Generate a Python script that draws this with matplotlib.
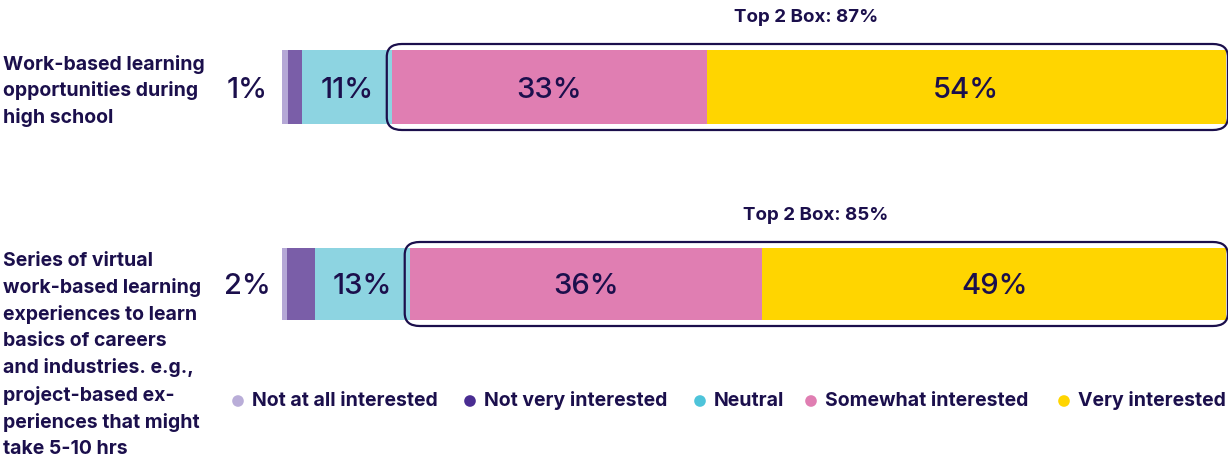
import numpy as np
import matplotlib.pyplot as plt
from matplotlib.patches import FancyBboxPatch

plt.rcParams['font.family'] = ['Inter', 'DejaVu Sans']

categories = ["Not at all interested", "Not very interested", "Neutral",
              "Somewhat interested", "Very interested"]
row1 = [0.6, 1.5, 9.6, 33.3, 55.0]
row2 = [0.5, 3.0, 10.1, 37.3, 49.1]
labels1 = ["", "1%", "11%", "33%", "54%"]
labels2 = ["", "2%", "13%", "36%", "49%"]
top2 = ["Top 2 Box: 87%", "Top 2 Box: 85%"]
questions = ["Work-based learning\nopportunities during\nhigh school",
             "Series of virtual\nwork-based learning\nexperiences to learn\nbasics of careers\n"
             "and industries. e.g.,\nproject-based ex-\nperiences that might\ntake 5-10 hrs"]

bar_cols = ["#B5A8D6", "#7A5EA8", "#8DD4E1", "#E07EB2", "#FFD500"]
leg_cols = ["#B9ADD8", "#4A2D92", "#4EC4DA", "#E07EB2", "#FFD500"]
ink = "#1B0F4C"

fig = plt.figure(figsize=(12.28, 4.59), dpi=100)
# overlay axes in pixel coords for text
ov = fig.add_axes([0, 0, 1, 1])
ov.set_xlim(0, 1228)
ov.set_ylim(459, 0)
ov.axis('off')

ax = fig.add_axes([282/1228, 0, 944/1228, 1])
ax.set_xlim(0, 100)
ax.set_ylim(459, 0)
ax.axis('off')

rows = [row1, row2]
labs = [labels1, labels2]
ycent = [87, 284]
hts = [74, 72]
for r, vals in enumerate(rows):
    left = np.concatenate([[0], np.cumsum(vals)[:-1]])
    ax.barh(ycent[r], vals, left=left, height=hts[r], color=bar_cols, edgecolor='none')
    for i, (l, v) in enumerate(zip(left, vals)):
        t = labs[r][i]
        if not t:
            continue
        if i == 1:
            ov.text(247, ycent[r] + 3, t, ha='center', va='center', fontsize=21,
                    fontweight='medium', color=ink)
        else:
            ax.text(l + v / 2, ycent[r] + 3, t, ha='center', va='center', fontsize=21,
                    fontweight='medium', color=ink)
    # top 2 box outline
    x0 = left[3] - 0.6
    box = FancyBboxPatch((x0, ycent[r] - hts[r] / 2 - 6), 100.2 - x0, hts[r] + 12,
                         boxstyle="round,pad=0,rounding_size=1.6",
                         mutation_aspect=8, fill=False, edgecolor=ink, lw=1.6, clip_on=False)
    ax.add_patch(box)
    ax.text((x0 + 100) / 2, ycent[r] - hts[r] / 2 - 33, top2[r], ha='center', va='center',
            fontsize=13.5, fontweight='bold', color=ink)

ov.text(3, 91, questions[0], ha='left', va='center', fontsize=14, fontweight='bold',
        color=ink, linespacing=1.52)
ov.text(3, 252, questions[1], ha='left', va='top', fontsize=14, fontweight='bold',
        color=ink, linespacing=1.55)

leg_x = [238, 470, 700, 811, 1064]
for x, c, name in zip(leg_x, leg_cols, categories):
    ov.scatter([x], [401], s=70, color=c, edgecolor='none')
    ov.text(x + 14, 401, name, ha='left', va='center', fontsize=14, fontweight='bold', color=ink)

fig.savefig("out.png", dpi=100)
